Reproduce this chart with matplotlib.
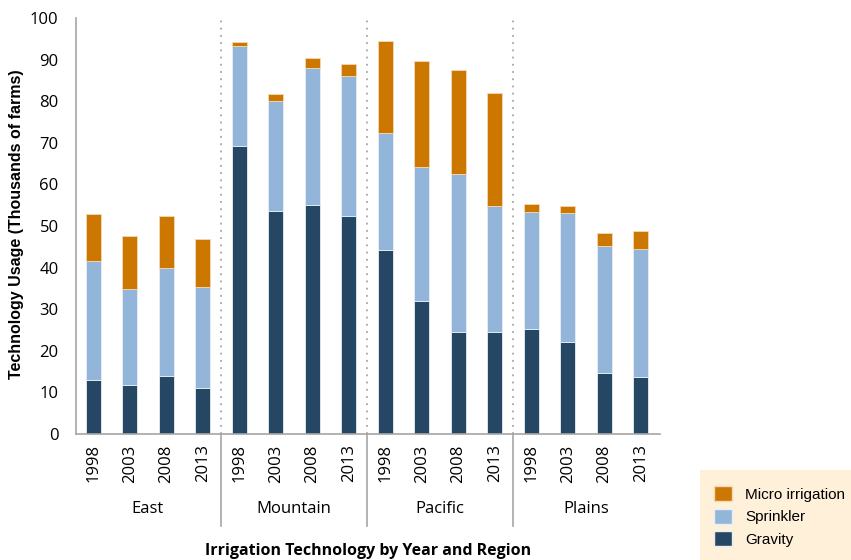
import numpy as np
import matplotlib
matplotlib.use('Agg')
import matplotlib.pyplot as plt
from matplotlib.patches import Patch, Rectangle
import matplotlib.transforms as mtransforms

# data (thousands of farms)
regions = ['East', 'Mountain', 'Pacific', 'Plains']
years = ['1998', '2003', '2008', '2013']
gravity = [13.0, 11.8, 13.9, 11.1,
           69.2, 53.6, 55.0, 52.4,
           44.2, 31.9, 24.5, 24.4,
           25.2, 22.0, 14.6, 13.6]
sprinkler_top = [41.6, 34.9, 39.9, 35.3,
                 93.2, 80.0, 87.9, 86.1,
                 72.4, 64.1, 62.5, 54.8,
                 53.4, 53.1, 45.2, 44.5]
total = [52.9, 47.6, 52.4, 46.9,
         94.2, 81.7, 90.4, 89.0,
         94.4, 89.7, 87.6, 82.0,
         55.4, 54.9, 48.3, 48.8]

gravity = np.array(gravity)
sprinkler = np.array(sprinkler_top) - gravity
micro = np.array(total) - np.array(sprinkler_top)

c_grav = '#264763'
c_spr = '#93B5D9'
c_mic = '#CC7700'

fig = plt.figure(figsize=(8.51, 5.60), dpi=100)
ax = fig.add_axes([76/851, 1-434/560, (660-76)/851, (434-18)/560])

x = np.arange(len(gravity))
w = 0.41
ax.bar(x, gravity, w, color=c_grav, edgecolor='#e8eef5', linewidth=0.6)
ax.bar(x, sprinkler, w, bottom=gravity, color=c_spr, edgecolor='#e8eef5', linewidth=0.6)
ax.bar(x, micro, w, bottom=gravity + sprinkler, color=c_mic, edgecolor='#f3d9b5', linewidth=0.6)

ax.set_xlim(-0.47, 15.53)
ax.set_ylim(0, 100)
ax.set_yticks(np.arange(0, 101, 10))
ax.tick_params(axis='y', length=0, labelsize=12, pad=12.5)
for lab in ax.get_yticklabels():
    lab.set_family('Open Sans')
ax.set_xticks([])

for s in ['top', 'right']:
    ax.spines[s].set_visible(False)
for s in ['left', 'bottom']:
    ax.spines[s].set_color('#a6a6a6')
    ax.spines[s].set_linewidth(1.2)

# group separators
trans = mtransforms.blended_transform_factory(ax.transData, ax.transAxes)
for i in range(1, len(regions)):
    xs = 4 * i - 0.5
    ax.axvline(xs, color='#a6a6a6', linestyle=(0, (1, 3)), linewidth=1.3)
    ax.plot([xs, xs], [0, -0.22], color='#a6a6a6', linewidth=1.2,
            transform=trans, clip_on=False)

# year labels and region labels
for i in range(len(x)):
    ax.text(x[i], -0.025, years[i % 4], transform=trans, rotation=90,
            ha='center', va='top', fontsize=12, family='Open Sans')
for j, r in enumerate(regions):
    ax.text(4 * j + 1.5, -0.18, r, transform=trans, ha='center', va='center',
            fontsize=12, family='Open Sans')

fig.text(368/851, 1-551/560, 'Irrigation Technology by Year and Region',
         ha='center', va='center', fontsize=11.5, fontweight='bold', family='Open Sans')
fig.text(17/851, 1-224/560, 'Technology Usage (Thousands of farms)',
         ha='center', va='center', rotation=90, fontsize=11.5, fontweight='bold',
         family='Liberation Sans')

# legend box
fig.patches.append(Rectangle((700/851, 0), 151/851, 90/560, transform=fig.transFigure,
                             facecolor='#FFF0DA', edgecolor='none', zorder=0))
handles = [Patch(facecolor=c_mic, edgecolor='#f3d9b5'),
           Patch(facecolor=c_spr, edgecolor='#e8eef5'),
           Patch(facecolor=c_grav, edgecolor='#e8eef5')]
leg = fig.legend(handles, ['Micro irrigation', 'Sprinkler', 'Gravity'],
                 loc='upper left', bbox_to_anchor=(714/851, 1-486/560), frameon=False,
                 prop={'family': 'Liberation Sans', 'size': 11},
                 handlelength=1.15, handleheight=1.15, handletextpad=0.9,
                 labelspacing=0.45, borderpad=0, borderaxespad=0)

fig.savefig('out.png', dpi=100)
